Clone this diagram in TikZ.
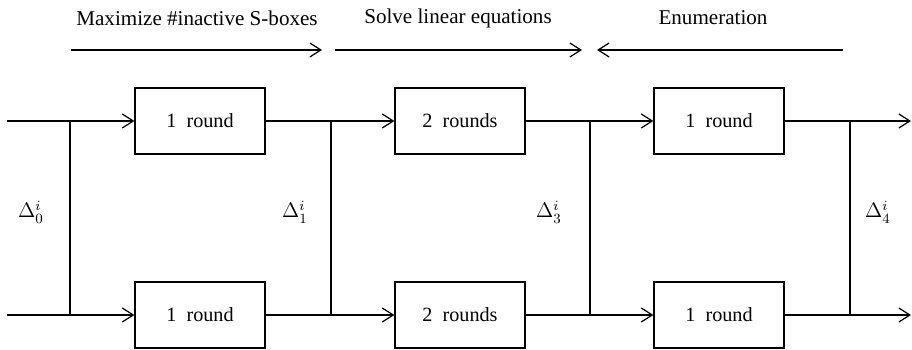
\documentclass[tikz,border=0pt]{standalone}
\usepackage{fontspec}
\setmainfont{Liberation Serif}
\usepackage{amsmath}
\usetikzlibrary{positioning,arrows.meta}
\tikzset{
  sig/.style={-{Straight Barb[length=2.2mm,width=2.8mm]},line width=0.7pt},
  rnd/.style={draw,line width=0.7pt,minimum width=2.6cm,minimum height=1.32cm,
    inner sep=0pt,font=\fontsize{11.5}{13}\selectfont},
  br/.style={line width=1pt},                       % branch line
  phase/.style={font=\fontsize{12}{14}\selectfont}, % phase title
  dlbl/.style={font=\fontsize{12}{14}\selectfont},  % difference label
}

\begin{document}
\begin{tikzpicture}[x=0.02cm,y=-0.02cm]
  \useasboundingbox (0,0) rectangle (912,350);
  % round boxes, upper and lower path
  \foreach \n/\x/\t in {1/200/1\ \ round,2/460/2\ \ rounds,3/719/1\ \ round}{
    \node[rnd] (t\n) at (\x,121) {\t};
    \node[rnd] (b\n) at (\x,315) {\t};
  }
  % inputs and outputs
  \coordinate (inT) at (7,121);  \coordinate (inB) at (7,315);
  \coordinate (outT) at (911,121); \coordinate (outB) at (911,315);
  % branch points
  \foreach \k/\x in {0/70,1/331,3/590,4/850}{
    \coordinate (j\k t) at (\x,121);
    \coordinate (j\k b) at (\x,315);
    \draw[br] (j\k t) -- (j\k b);
  }
  \draw[sig] (inT) -- (t1);  \draw[sig] (inB) -- (b1);
  \draw[sig] (t1) -- (t2);   \draw[sig] (b1) -- (b2);
  \draw[sig] (t2) -- (t3);   \draw[sig] (b2) -- (b3);
  \draw[sig] (t3) -- (outT); \draw[sig] (b3) -- (outB);
  % differences
  \node[dlbl] (d0) at (31,212) {$\Delta_0^i$};
  \node[dlbl] (d1) at (295,212) {$\Delta_1^i$};
  \node[dlbl] (d3) at (549,212) {$\Delta_3^i$};
  \node[dlbl] (d4) at (878,212) {$\Delta_4^i$};
  % phases
  \node[phase] (ph1) at (197,18) {Maximize \#inactive S-boxes};
  \node[phase] (ph2) at (458,18) {Solve linear equations};
  \node[phase] (ph3) at (713,18) {Enumeration};
  \coordinate (a1s) at (71,50);  \coordinate (a1e) at (322,50);
  \coordinate (a2s) at (335,50); \coordinate (a2e) at (582,50);
  \coordinate (a3s) at (843,50); \coordinate (a3e) at (597,50);
  \draw[sig] (a1s) -- (a1e);
  \draw[sig] (a2s) -- (a2e);
  \draw[sig] (a3s) -- (a3e);
\end{tikzpicture}
\end{document}
